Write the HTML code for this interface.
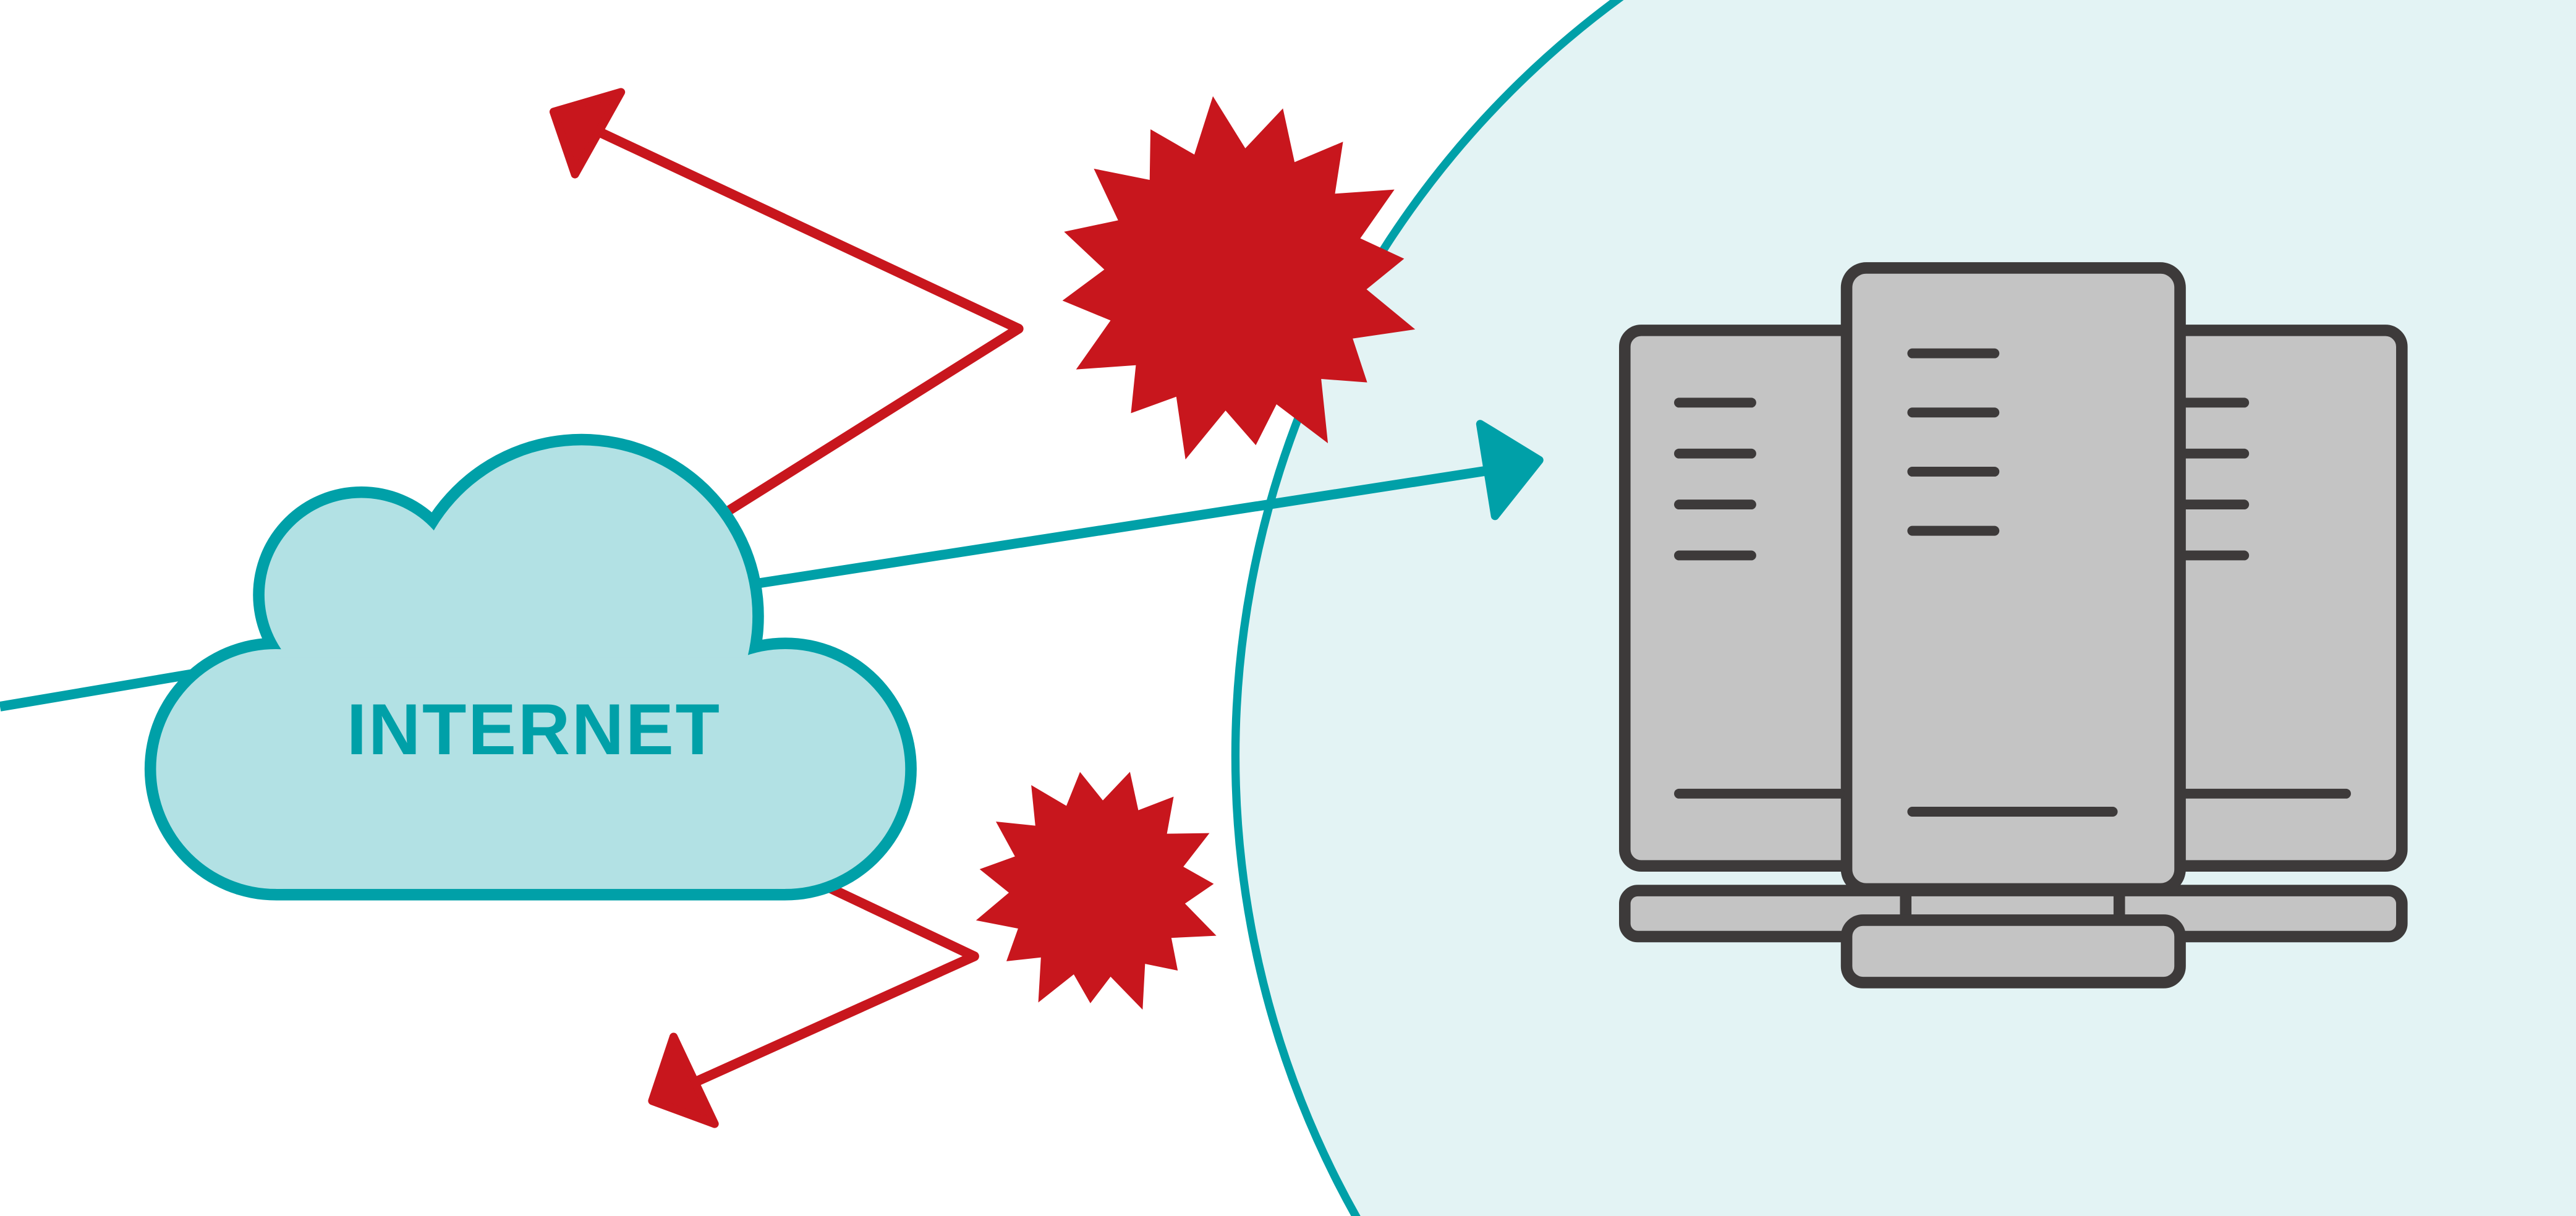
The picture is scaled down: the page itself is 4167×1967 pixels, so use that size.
<!DOCTYPE html>
<html><head><meta charset="utf-8"><style>
html,body{margin:0;padding:0;background:#fff;overflow:hidden;width:4167px;height:1967px}
svg{display:block;position:absolute;left:0;top:0}
</style></head><body>
<svg width="4167" height="1967" viewBox="0 0 1568 740" xmlns="http://www.w3.org/2000/svg">
<rect width="1568" height="740" fill="#fff"/>
<circle cx="1324" cy="460" r="572" fill="#e3f3f4" stroke="#00a0a8" stroke-width="5"/>

<g stroke="#c8161d" stroke-width="6" fill="none" stroke-linejoin="round">
<polyline points="440,313 620,200 360,78"/>
<polyline points="500,538 593,582 420,660"/>
</g>
<g fill="#c8161d" stroke="#c8161d" stroke-width="5" stroke-linejoin="round">
<polygon points="337,68 378,56 350,106"/>
<polygon points="410,631 397,670 435,684"/>
</g>

<g stroke="#00a0a8" stroke-width="6" fill="none">
<line x1="0" y1="430" x2="130" y2="408"/>
<line x1="455" y1="356" x2="908" y2="286"/>
</g>
<polygon points="901,258 937,280 910,314" fill="#00a0a8" stroke="#00a0a8" stroke-width="5" stroke-linejoin="round"/>

<polygon id="s1" fill="#c8161d" points=""/>
<polygon id="s2" fill="#c8161d" points=""/>
<script>
function star(id,cx,cy,ro,ri,n,rot){var p=[];for(var i=0;i<2*n;i++){var r=i%2?ri:ro;if(i%2==0)r*=(1+0.06*Math.sin(i*1.7));var a=rot+Math.PI*i/n;p.push((cx+r*Math.cos(a)).toFixed(1)+','+(cy+r*Math.sin(a)).toFixed(1));}document.getElementById(id).setAttribute('points',p.join(' '));}
star('s1',752,170,108,80,16,-1.3);
star('s2',668,541,74,54,15,-1.3);
</script>

<g fill="#00a0a8">
<circle cx="354" cy="375" r="111"/>
<circle cx="220" cy="362" r="66"/>
<circle cx="478" cy="468" r="80"/>
<circle cx="168" cy="468" r="80"/>
<rect x="168" y="400" width="310" height="148"/>
</g>
<g fill="#b2e1e4">
<circle cx="354" cy="375" r="104"/>
<circle cx="220" cy="362" r="59"/>
<circle cx="478" cy="468" r="73"/>
<circle cx="168" cy="468" r="73"/>
<rect x="168" y="400" width="310" height="141"/>
</g>
<text x="325" y="459" text-anchor="middle" font-family="Liberation Sans, sans-serif" font-weight="bold" font-size="44" fill="#00a0a8" letter-spacing="1">INTERNET</text>

<g stroke="#3d3a3a" stroke-width="7" fill="#c4c4c4" stroke-linejoin="round">
<rect x="989" y="201" width="473" height="326" rx="10"/>
<rect x="989" y="542" width="473" height="28" rx="8"/>
<line x1="1160" y1="541" x2="1160" y2="560"/>
<line x1="1290" y1="541" x2="1290" y2="560"/>
<rect x="1124" y="560" width="203" height="38" rx="10"/>
<rect x="1124" y="163" width="203" height="378" rx="12"/>
</g>
<g stroke="#3d3a3a" stroke-width="6" stroke-linecap="round">
<line x1="1022" y1="245" x2="1066" y2="245"/>
<line x1="1022" y1="276" x2="1066" y2="276"/>
<line x1="1022" y1="307" x2="1066" y2="307"/>
<line x1="1022" y1="338" x2="1066" y2="338"/>
<line x1="1022" y1="483" x2="1120" y2="483"/>
<line x1="1330" y1="245" x2="1366" y2="245"/>
<line x1="1330" y1="276" x2="1366" y2="276"/>
<line x1="1330" y1="307" x2="1366" y2="307"/>
<line x1="1330" y1="338" x2="1366" y2="338"/>
<line x1="1330" y1="483" x2="1428" y2="483"/>
<line x1="1164" y1="215" x2="1214" y2="215"/>
<line x1="1164" y1="251" x2="1214" y2="251"/>
<line x1="1164" y1="287" x2="1214" y2="287"/>
<line x1="1164" y1="323" x2="1214" y2="323"/>
<line x1="1164" y1="494" x2="1286" y2="494"/>
</g>
</svg>
</body></html>
